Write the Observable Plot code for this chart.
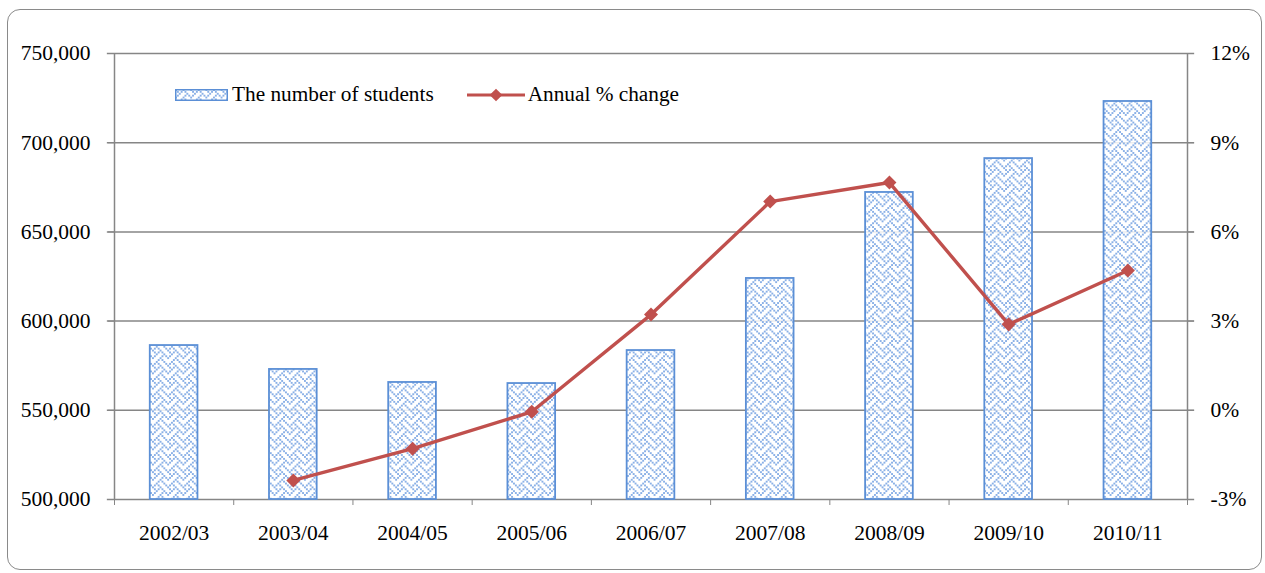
<!DOCTYPE html>
<html>
<head>
<meta charset="utf-8">
<script src="https://cdn.jsdelivr.net/npm/d3@7"></script>
<script src="https://cdn.jsdelivr.net/npm/@observablehq/plot@0.6"></script>
<style>
  body { margin: 0; background: #fff; font-family: "Liberation Serif", "Times New Roman", serif; }
  #wrap { position: relative; width: 1265px; height: 573px; overflow: hidden; }
  #frame { position: absolute; left: 7px; top: 9px; width: 1253px; height: 559px; border: 1.5px solid #8a8a8a; border-radius: 13px; pointer-events: none; }
  #legend { position: absolute; top: 82px; left: 175px; display: flex; align-items: center; font-size: 21.3px; color: #000; font-family: "Liberation Serif", serif; }
  .item { display: flex; align-items: center; }
  svg.plot text { font-family: "Liberation Serif", "Times New Roman", serif; }
</style>
</head>
<body>
<div id="wrap">
  <div id="chart"></div>
  <div id="frame"></div>
  <div id="legend">
    <span class="item" style="margin-right:33px"><svg width="53" height="12" style="margin-right:4px"><rect x="0.75" y="0.75" width="51.5" height="10.5" fill="url(#weave)" stroke="#5b8fd6" stroke-width="1.5"/></svg>The number of students</span>
    <span class="item"><svg width="58" height="14" style="margin-right:3px"><line x1="0" y1="7" x2="58" y2="7" stroke="#c0504d" stroke-width="3.2"/><rect x="24.5" y="2.5" width="9" height="9" fill="#c0504d" transform="rotate(45 29 7)"/></svg>Annual % change</span>
  </div>
</div>
<script>
const years = ["2002/03","2003/04","2004/05","2005/06","2006/07","2007/08","2008/09","2009/10","2010/11"];
const students = [586300, 572900, 565600, 565000, 583500, 623900, 672100, 691100, 723100];
const pctChange = [null, -2.36, -1.29, -0.05, 3.22, 7.02, 7.66, 2.89, 4.70];
const leftTicks = [500000, 550000, 600000, 650000, 700000, 750000];
const rightTicks = [-3, 0, 3, 6, 9, 12];

const yMin = 500000, yMax = 750000, pMin = -3, pMax = 12;
const pToY = p => yMin + (p - pMin) * (yMax - yMin) / (pMax - pMin);

const barData = years.map((y, i) => ({i, year: y, value: students[i]}));
const lineData = years.map((y, i) => ({i, year: y, p: pctChange[i]})).filter(d => d.p != null);

const gray = "#868686";
const fs = 21.5;
const plot = Plot.plot({
  width: 1265,
  height: 573,
  marginLeft: 114,
  marginRight: 78,
  marginTop: 53,
  marginBottom: 74,
  style: {fontSize: fs + "px", fontFamily: "Liberation Serif, Times New Roman, serif", color: "#000", background: "transparent"},
  x: {domain: [0, years.length], axis: null},
  y: {domain: [yMin, yMax], axis: null},
  marks: [
    Plot.ruleY(leftTicks, {y: d => d, x1: -0.06, x2: years.length + 0.06, stroke: gray, strokeWidth: 1.5, clip: false}),
    Plot.rect(barData, {x1: d => d.i + 0.3, x2: d => d.i + 0.7, y1: yMin, y2: "value", fill: "url(#weave)", stroke: "#5b8fd6", strokeWidth: 1.8}),
    Plot.ruleX([0, years.length], {y1: yMin, y2: yMax, stroke: gray, strokeWidth: 1.5}),
    Plot.axisY(leftTicks, {anchor: "left", label: null, tickSize: 6, tickPadding: 18, stroke: gray, tickFormat: d3.format(","), fontSize: fs, fill: "#000"}),
    Plot.axisY(rightTicks.map(pToY), {anchor: "right", label: null, tickSize: 6, tickPadding: 17, stroke: gray, textAnchor: "start", tickFormat: v => Math.round((v - yMin) * (pMax - pMin) / (yMax - yMin) + pMin) + "%", fontSize: fs, fill: "#000"}),
    Plot.axisX(d3.range(0, years.length + 1), {anchor: "bottom", label: null, tickSize: 6, tickFormat: () => "", stroke: gray}),
    Plot.axisX(years.map((y, i) => i + 0.5), {anchor: "bottom", label: null, tickSize: 0, tickPadding: 25, tickFormat: v => years[Math.floor(v)], fontSize: fs, fill: "#000"}),
    Plot.line(lineData, {x: d => d.i + 0.5, y: d => pToY(d.p), stroke: "#c0504d", strokeWidth: 3.4}),
    Plot.dot(lineData, {x: d => d.i + 0.5, y: d => pToY(d.p), symbol: "square", r: 5.6, rotate: 45, fill: "#c0504d", stroke: "none"})
  ]
});

// Weave hatch tile (8x8 bit pattern), drawn at 2px per cell
const weaveBits = [0x88, 0x54, 0x22, 0x45, 0x88, 0x14, 0x22, 0x51];
const cell = 1.9;
let cells = "";
weaveBits.forEach((b, r) => {
  for (let c = 0; c < 8; c++) {
    if (b & (0x80 >> c)) cells += `<rect x="${c * cell}" y="${r * cell}" width="${cell}" height="${cell}"/>`;
  }
});
const ns = "http://www.w3.org/2000/svg";
const defs = document.createElementNS(ns, "defs");
defs.innerHTML = `
<pattern id="weave" patternUnits="userSpaceOnUse" width="${8 * cell}" height="${8 * cell}">
  <rect width="${8 * cell}" height="${8 * cell}" fill="#ffffff" fill-opacity="0.85"/>
  <g fill="#8ab0e6">${cells}</g>
</pattern>`;
plot.insertBefore(defs, plot.firstChild);
document.getElementById("chart").appendChild(plot);
</script>
</body>
</html>
